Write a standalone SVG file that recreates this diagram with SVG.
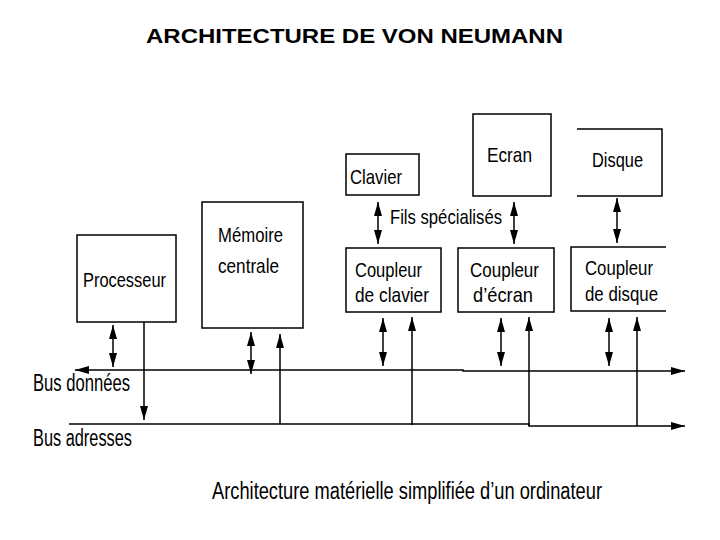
<svg xmlns="http://www.w3.org/2000/svg" width="720" height="540" viewBox="0 0 720 540">
  <style>
    .box { fill: #ffffff; stroke: #000000; stroke-width: 1.5; }
    .open { fill: none; stroke: #000000; stroke-width: 1.5; }
    .lbl { font-family: "Liberation Sans", Arial, sans-serif; font-size: 21px; fill: #000000; }
    .big { font-family: "Liberation Sans", Arial, sans-serif; font-size: 23px; fill: #000000; }
    .title { font-family: "Liberation Sans", Arial, sans-serif; font-size: 20px; font-weight: bold; fill: #000000; }
    .wire { fill: none; stroke: #000000; stroke-width: 1.5; }
    .dbl { marker-start: url(#head); marker-end: url(#head); }
    .one { marker-end: url(#head); }
  </style>
  <defs>
    <marker id="head" markerUnits="userSpaceOnUse" viewBox="0 0 14 8" markerWidth="14" markerHeight="8" refX="14" refY="4" orient="auto-start-reverse">
      <path d="M0,0 L14,4 L0,8 z" fill="#000000"/>
    </marker>
  </defs>
  <rect width="720" height="540" fill="#ffffff"/>

  <text class="title" x="146" y="43" textLength="417" lengthAdjust="spacingAndGlyphs">ARCHITECTURE DE VON NEUMANN</text>

  <g id="processeur">
    <rect class="box" x="77" y="235" width="99" height="87"/>
    <text class="lbl" x="83" y="287" textLength="83" lengthAdjust="spacingAndGlyphs">Processeur</text>
  </g>
  <g id="memoire">
    <rect class="box" x="202" y="202" width="101" height="126"/>
    <text class="lbl" x="218" y="242" textLength="65" lengthAdjust="spacingAndGlyphs">Mémoire</text>
    <text class="lbl" x="218" y="273" textLength="61" lengthAdjust="spacingAndGlyphs">centrale</text>
  </g>
  <g id="clavier">
    <rect class="box" x="346" y="154" width="73" height="41"/>
    <text class="lbl" x="350" y="184" textLength="52" lengthAdjust="spacingAndGlyphs">Clavier</text>
  </g>
  <g id="ecran">
    <rect class="box" x="473" y="114" width="78" height="82"/>
    <text class="lbl" x="487" y="162" textLength="45" lengthAdjust="spacingAndGlyphs">Ecran</text>
  </g>
  <g id="disque">
    <path class="open" d="M577,129 H662 V196 H577"/>
    <text class="lbl" x="592" y="167" textLength="51" lengthAdjust="spacingAndGlyphs">Disque</text>
  </g>
  <g id="coupleur-clavier">
    <rect class="box" x="346" y="248" width="95" height="64"/>
    <text class="lbl" x="355" y="277" textLength="67" lengthAdjust="spacingAndGlyphs">Coupleur</text>
    <text class="lbl" x="355" y="302" textLength="74" lengthAdjust="spacingAndGlyphs">de clavier</text>
  </g>
  <g id="coupleur-ecran">
    <rect class="box" x="458" y="248" width="96" height="64"/>
    <text class="lbl" x="470" y="277" textLength="69" lengthAdjust="spacingAndGlyphs">Coupleur</text>
    <text class="lbl" x="473" y="302" textLength="60" lengthAdjust="spacingAndGlyphs">d’écran</text>
  </g>
  <g id="coupleur-disque">
    <path class="open" d="M666,247 H571 V311 H666"/>
    <text class="lbl" x="585" y="275" textLength="68" lengthAdjust="spacingAndGlyphs">Coupleur</text>
    <text class="lbl" x="585" y="301" textLength="73" lengthAdjust="spacingAndGlyphs">de disque</text>
  </g>

  <g id="labels">
    <text class="lbl" x="390" y="224" textLength="112" lengthAdjust="spacingAndGlyphs">Fils spécialisés</text>
    <text class="big" x="33" y="391" textLength="97" lengthAdjust="spacingAndGlyphs">Bus données</text>
    <text class="big" x="33" y="446" textLength="99" lengthAdjust="spacingAndGlyphs">Bus adresses</text>
    <text class="big" x="212" y="499" textLength="390" lengthAdjust="spacingAndGlyphs">Architecture matérielle simplifiée d’un ordinateur</text>
  </g>

  <g id="connectors">
    <path class="wire dbl" d="M75,370 H463 V371 H685"/>
    <path class="wire one" d="M69,424 H529 V426 H685"/>

    <path class="wire dbl" d="M113,325 V367"/>
    <path class="wire one" d="M144,322 V420"/>
    <path class="wire dbl" d="M251,332 V374"/>
    <path class="wire one" d="M280,424 V334"/>

    <path class="wire dbl" d="M378,202 V244"/>
    <path class="wire dbl" d="M514,202 V244"/>
    <path class="wire dbl" d="M617,198 V243"/>

    <path class="wire dbl" d="M383,318 V366"/>
    <path class="wire one" d="M412,425 V317"/>
    <path class="wire dbl" d="M501,318 V366"/>
    <path class="wire one" d="M529,426 V317"/>
    <path class="wire dbl" d="M609,318 V366"/>
    <path class="wire one" d="M637,426 V317"/>
  </g>
</svg>
